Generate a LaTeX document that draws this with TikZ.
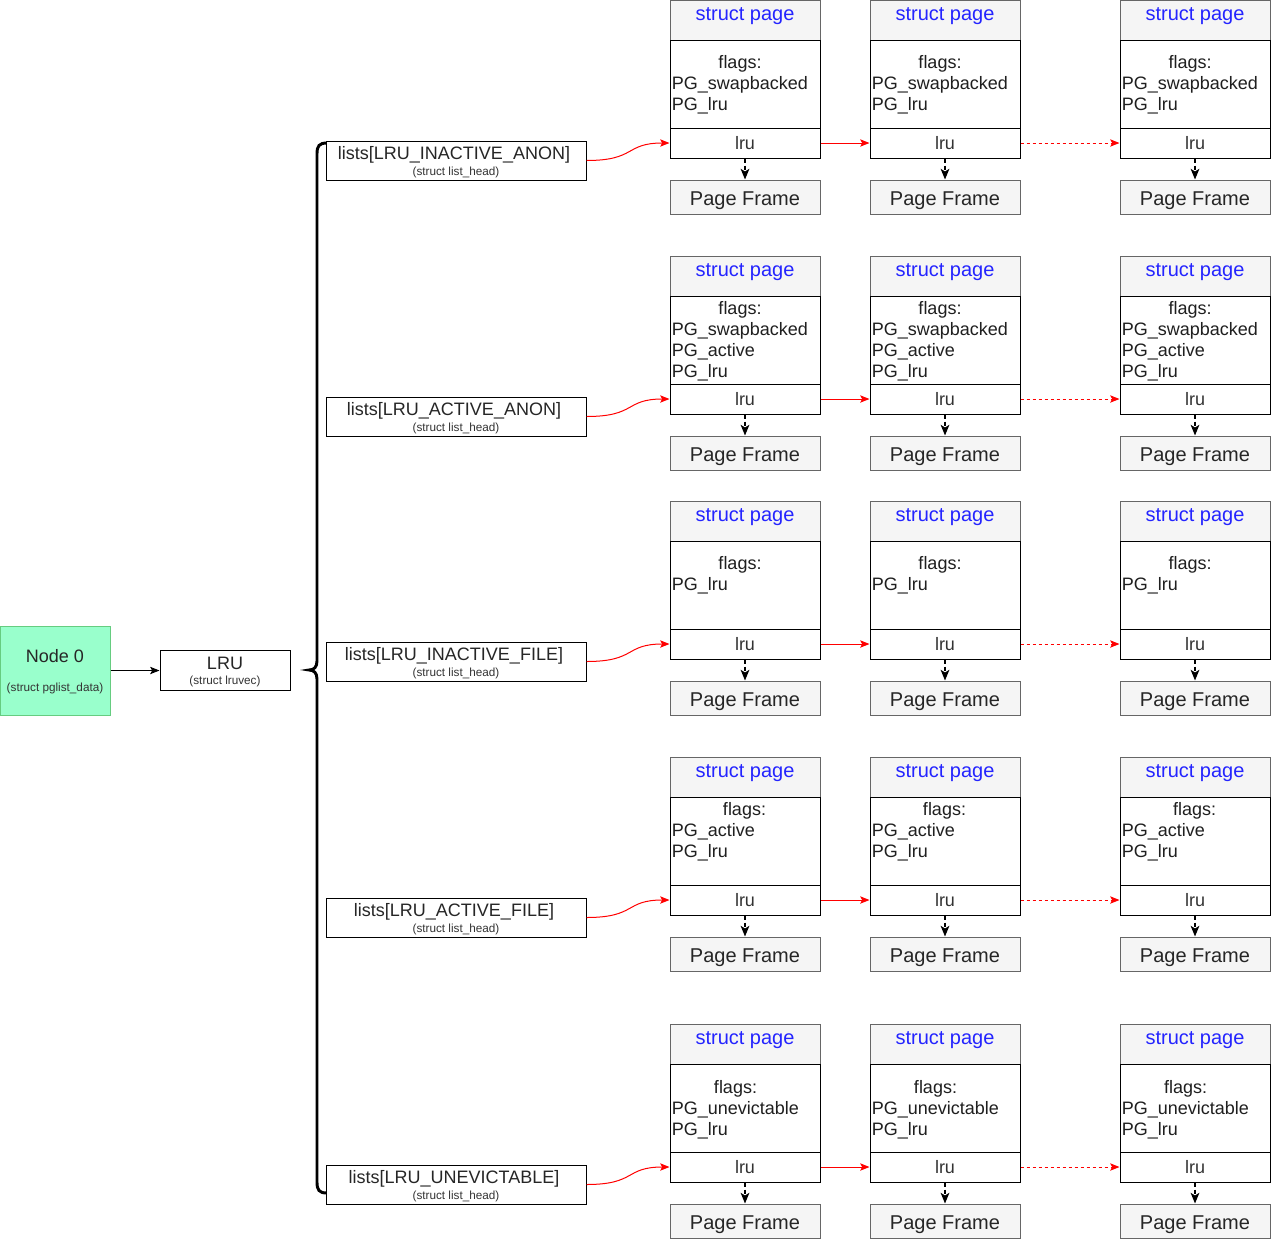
\documentclass[tikz,border=0pt]{standalone}
\usepackage{fontspec}
\setmainfont{Liberation Sans}
\usetikzlibrary{arrows.meta}
\definecolor{hdrfill}{HTML}{F5F5F5}
\definecolor{grayline}{HTML}{666666}
\definecolor{txtgray}{HTML}{333333}
\definecolor{pageblue}{HTML}{2424FF}
\definecolor{nodegreen}{HTML}{99FFCC}
\definecolor{nodeborder}{HTML}{66CC80}
\definecolor{linkred}{HTML}{FF0000}
\newcommand\pgtab[1]{\begin{tabular}[t]{@{}l@{}}#1\end{tabular}}
\begin{document}
\begin{tikzpicture}[x=0.75pt,y=-0.75pt,
  box/.style={draw, line width=0.75pt, minimum width=112.5pt, inner sep=0pt},
  hdr/.style={box, draw=grayline, fill=hdrfill, minimum height=30pt},
  body/.style={box, draw=black, fill=white, minimum height=66pt},
  lrubox/.style={box, draw=black, fill=white, minimum height=22.5pt, text=txtgray, font=\fontsize{13.5}{16}\selectfont},
  pfbox/.style={box, draw=grayline, fill=hdrfill, minimum height=25.5pt, text=black!85, font=\fontsize{15}{18}\selectfont},
  hdrtext/.style={inner sep=0pt, text=pageblue, font=\fontsize{15}{18}\selectfont},
  flagtext/.style={anchor=base, inner sep=0pt, text=black!88, font=\fontsize{13.5}{15.75}\selectfont},
  pgtext/.style={anchor=base west, inner sep=0pt, text=black!88, font=\fontsize{13.5}{15.75}\selectfont},
  listbox/.style={draw, line width=0.75pt, fill=white, minimum width=195pt, minimum height=29.25pt, inner sep=0pt},
  titletext/.style={inner sep=0pt, text=black!85, font=\fontsize{13.5}{16}\selectfont},
  subtext/.style={inner sep=0pt, text=black!80, font=\fontsize{8.8}{10}\selectfont},
  redlink/.style={draw=linkred, line width=0.75pt, -{Stealth[length=7pt,width=5.5pt,inset=1.5pt]}},
  reddash/.style={redlink, dash pattern=on 2.25pt off 2.25pt},
  framelink/.style={draw=black, line width=1.1pt, dash pattern=on 3pt off 2.25pt, -{Stealth[length=8pt,width=6.5pt,inset=2pt]}},
  blacklink/.style={draw=black, line width=0.75pt, -{Stealth[length=7pt,width=5.5pt,inset=1.5pt]}}
]
\useasboundingbox (0,0) rectangle (1271,1240);

% Node 0 and LRU
\node[draw=nodeborder, fill=nodegreen, line width=0.75pt, minimum width=82.5pt, minimum height=66.75pt, inner sep=0pt] (node0) at (55,670.5) {};
\node[titletext] (node0t) at (55,656.5) {Node 0};
\node[subtext] (node0s) at (55,688.5) {(struct pglist\_data)};
\node[draw, line width=0.75pt, fill=white, minimum width=97.5pt, minimum height=30pt, inner sep=0pt] (lruvec) at (225,670) {};
\node[titletext] (lruvect) at (225,663) {LRU};
\node[subtext] (lruvecs) at (225,681.5) {(struct lruvec)};
\draw[blacklink] (node0.east) -- (node0.east -| lruvec.west);

% brace
\draw[line width=2.2pt, line cap=round] (327,143) .. controls (319,143) and (317,146) .. (317,154)
  -- (317,661) .. controls (317,667) and (314,670) .. (309,670)
  .. controls (314,670) and (317,673) .. (317,679)
  -- (317,1182) .. controls (317,1190) and (319,1193) .. (327,1193);

\foreach \r/\t/\nm/\pg/\fb/\fx in {
  1/0/INACTIVE\_ANON/{PG\_swapbacked\\PG\_lru}/68.5/-5,
  2/256/ACTIVE\_ANON/{PG\_swapbacked\\PG\_active\\PG\_lru}/58.5/-5,
  3/501/INACTIVE\_FILE/{PG\_lru}/68.5/-5,
  4/757/ACTIVE\_FILE/{PG\_active\\PG\_lru}/58.5/-0.5,
  5/1024/UNEVICTABLE/{PG\_unevictable\\PG\_lru}/69.5/-9.5}{
  \node[listbox] (list-\r) at (456,\t+160.5) {};
  \node[titletext] (listt-\r) at (454,\t+155) {lists[LRU\_\nm]};
  \node[subtext] (lists-\r) at (456,\t+172) {(struct list\_head)};
  \foreach \c/\x in {1/745,2/945,3/1195}{
    \node[hdr] (hdr-\r-\c) at (\x,\t+20) {};
    \node[hdrtext] (hdrt-\r-\c) at (\x,\t+16.5) {struct page};
    \node[body] (body-\r-\c) at (\x,\t+84) {};
    \node[flagtext] (flags-\r-\c) at (\x+\fx,\t+\fb) {flags:};
    \node[pgtext] (pg-\r-\c) at (\x-73.5,\t+\fb+21) {\pgtab{\pg}};
    \node[lrubox] (lru-\r-\c) at (\x,\t+143) {lru};
    \node[pfbox] (pf-\r-\c) at (\x,\t+197) {\raisebox{-2.5pt}[\height][\depth]{Page Frame}};
    \draw[framelink] (lru-\r-\c.south) -- (pf-\r-\c.north);
  }
  \draw[redlink] (list-\r.east) .. controls +(50,0) and +(-45,0) .. (lru-\r-1.west);
  \draw[redlink] (lru-\r-1.east) -- (lru-\r-2.west);
  \draw[reddash] (lru-\r-2.east) -- (lru-\r-3.west);
}
\end{tikzpicture}
\end{document}
